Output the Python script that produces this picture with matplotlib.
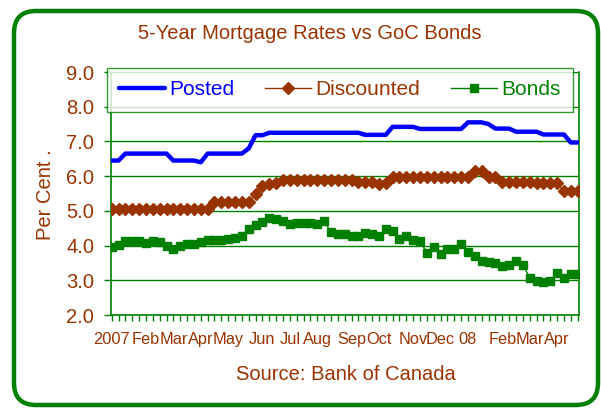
import numpy as np
import pandas as pd
import matplotlib
matplotlib.use("Agg")
import matplotlib.pyplot as plt
from matplotlib.patches import FancyBboxPatch

plt.rcParams['font.family'] = ['Liberation Sans', 'DejaVu Sans']

# ---------------- data (weekly, Jan 2007 - Apr 2008) ----------------
weeks = pd.date_range("2007-01-03", periods=69, freq="7D")

posted = [6.45, 6.45, 6.65, 6.65, 6.65, 6.65, 6.65, 6.65, 6.65, 6.45,
          6.45, 6.45, 6.45, 6.40, 6.65, 6.65, 6.65, 6.65, 6.65, 6.65,
          6.80, 7.18, 7.18, 7.25, 7.25, 7.25, 7.25, 7.25, 7.25, 7.25,
          7.25, 7.25, 7.25, 7.25, 7.25, 7.25, 7.25, 7.19, 7.19, 7.19,
          7.19, 7.42, 7.42, 7.42, 7.42, 7.36, 7.36, 7.36, 7.36, 7.36,
          7.36, 7.36, 7.55, 7.55, 7.55, 7.50, 7.37, 7.37, 7.37, 7.28,
          7.28, 7.28, 7.28, 7.20, 7.20, 7.20, 7.20, 6.97, 6.97]

discounted = [5.05, 5.05, 5.05, 5.05, 5.05, 5.05, 5.05, 5.05, 5.05, 5.05,
              5.05, 5.05, 5.05, 5.05, 5.05, 5.25, 5.25, 5.25, 5.25, 5.25,
              5.25, 5.49, 5.72, 5.77, 5.80, 5.89, 5.89, 5.89, 5.89, 5.89,
              5.89, 5.89, 5.89, 5.89, 5.89, 5.89, 5.84, 5.84, 5.84, 5.78,
              5.80, 5.97, 5.97, 5.97, 5.97, 5.97, 5.97, 5.97, 5.97, 5.97,
              5.97, 5.97, 5.97, 6.16, 6.16, 5.99, 5.97, 5.84, 5.84, 5.84,
              5.84, 5.84, 5.80, 5.80, 5.80, 5.80, 5.56, 5.56, 5.56]

bonds = [3.97, 4.03, 4.13, 4.13, 4.12, 4.08, 4.13, 4.10, 3.98, 3.89,
         3.98, 4.04, 4.05, 4.09, 4.17, 4.17, 4.17, 4.18, 4.22, 4.28,
         4.47, 4.60, 4.68, 4.80, 4.76, 4.70, 4.62, 4.66, 4.66, 4.66,
         4.62, 4.70, 4.40, 4.34, 4.33, 4.28, 4.28, 4.35, 4.34, 4.28,
         4.47, 4.42, 4.20, 4.28, 4.17, 4.12, 3.80, 3.96, 3.75, 3.89,
         3.89, 4.05, 3.81, 3.71, 3.57, 3.52, 3.51, 3.41, 3.45, 3.55,
         3.44, 3.08, 2.98, 2.94, 2.98, 3.22, 3.08, 3.17, 3.17]

month_labels = ['2007', 'Feb', 'Mar', 'Apr', 'May', 'Jun', 'Jul', 'Aug',
                'Sep', 'Oct', 'Nov', 'Dec', '08', 'Feb', 'Mar', 'Apr']

BROWN = '#993300'
GREEN = '#008000'
BLUE = '#0000FF'

# ---------------- figure ----------------
fig = plt.figure(figsize=(6.01, 4.08), dpi=100)

# rounded green frame around the whole chart (pixel coords)
frame = FancyBboxPatch((14, 3), 584, 394, boxstyle="round,pad=0,rounding_size=22",
                       transform=None, fill=False, edgecolor=GREEN, linewidth=3.2,
                       clip_on=False)
fig.patches.append(frame)

ax = fig.add_axes([0.1847, 0.2279, 0.7787, 0.5956])
x = np.arange(len(weeks))

ax.plot(x, posted, color=BLUE, lw=3.2, solid_capstyle='round', label='Posted', zorder=3)
ax.plot(x, discounted, color=BROWN, lw=1.0, marker='D', ms=6, mec=BROWN, mfc=BROWN,
        label='Discounted', zorder=3)
ax.plot(x, bonds, color=GREEN, lw=1.0, marker='s', ms=6, mec=GREEN, mfc=GREEN,
        label='Bonds', zorder=3)

ax.set_ylim(2.0, 9.0)
ax.set_yticks(np.arange(2.0, 9.01, 1.0))
ax.set_yticklabels([f"{v:.1f}" for v in np.arange(2.0, 9.01, 1.0)])
ax.yaxis.grid(True, color=GREEN, lw=1.0)
ax.set_axisbelow(True)

ax.set_xlim(-0.1, 68.2)
# month label on the first week of each month, a tick mark on every week
month_pos = [i for i in range(len(weeks)) if i == 0 or weeks[i].month != weeks[i - 1].month]
ax.set_xticks(month_pos)
ax.set_xticklabels(month_labels)
ax.set_xticks(x, minor=True)
ax.tick_params(axis='x', which='both', length=4, width=1, color=GREEN, direction='out')
ax.tick_params(axis='x', which='major', pad=8, labelsize=11.8, labelcolor=BROWN)
ax.tick_params(axis='y', length=5, width=1, color=GREEN, pad=7, labelsize=14.5,
               labelcolor=BROWN)

for side in ['left', 'right', 'bottom']:
    ax.spines[side].set_color(GREEN)
    ax.spines[side].set_linewidth(1.2)
ax.spines['top'].set_visible(False)

leg = fig.legend(loc='upper left', bbox_to_anchor=(0.178, 0.834, 0.775, 0.0),
                 mode='expand', ncol=3, fontsize=15, frameon=True, fancybox=False,
                 edgecolor=GREEN, handlelength=2.2, handletextpad=0.2,
                 borderpad=0.6, borderaxespad=0)
leg.get_frame().set_linewidth(1.0)
for txt, col in zip(leg.get_texts(), [BLUE, BROWN, GREEN]):
    txt.set_color(col)

fig.text(0.516, 0.919, '5-Year Mortgage Rates vs GoC Bonds', ha='center', va='center',
         fontsize=14.5, color=BROWN)
fig.text(0.576, 0.083, 'Source: Bank of Canada', ha='center', va='center',
         fontsize=14.5, color=BROWN)
fig.text(0.075, 0.522, 'Per Cent .', ha='center', va='center', rotation=90,
         fontsize=14.5, color=BROWN)

fig.savefig('out.png', dpi=100)
